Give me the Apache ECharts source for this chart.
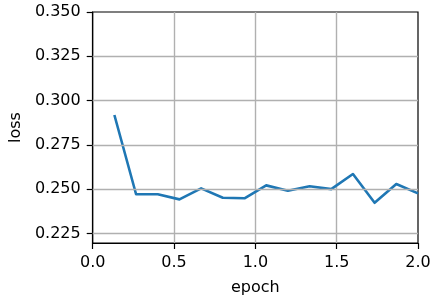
<!DOCTYPE html>
<html>
<head>
<meta charset="utf-8">
<script src="https://cdn.jsdelivr.net/npm/echarts@6/dist/echarts.min.js"></script>
<style>html,body{margin:0;padding:0;background:#fff;}#c{width:438px;height:302px;}</style>
</head>
<body>
<div id="c"></div>
<script>
const epochs = [0.1333, 0.2667, 0.4, 0.5333, 0.6667, 0.8, 0.9333, 1.0667, 1.2, 1.3333, 1.4667, 1.6, 1.7333, 1.8667, 2.0];
const loss = [0.2919, 0.2472, 0.2472, 0.2443, 0.2505, 0.2452, 0.2449, 0.2522, 0.2492, 0.2517, 0.2501, 0.2586, 0.2424, 0.2530, 0.2477];
const yTicks = [0.225, 0.25, 0.275, 0.3, 0.325, 0.35];
const xTicks = [0, 0.5, 1.0, 1.5, 2.0];
const yMin = 0.2197, yMax = 0.35;

const font = 'DejaVu Sans';
const chart = echarts.init(document.getElementById('c'), null, {renderer: 'canvas'});
chart.setOption({
  animation: false,
  grid: {left: 92, right: 20, top: 12, bottom: 59, show: true, borderColor: '#000', borderWidth: 1.2, backgroundColor: 'transparent'},
  xAxis: {
    type: 'value', min: xTicks[0], max: xTicks[xTicks.length - 1], interval: 0.5,
    name: 'epoch', nameLocation: 'middle', nameGap: 37,
    nameTextStyle: {fontFamily: font, fontSize: 16, color: '#000'},
    axisLine: {show: true, onZero: false, lineStyle: {color: '#000', width: 1.2}},
    axisTick: {show: true, length: 6, lineStyle: {color: '#000', width: 1.2}},
    axisLabel: {fontFamily: font, fontSize: 16, color: '#000', margin: 12, formatter: v => v.toFixed(1)},
    splitLine: {show: true, showMinLine: false, showMaxLine: false, lineStyle: {color: '#b0b0b0', width: 1.4}}
  },
  yAxis: {
    type: 'value', min: yMin, max: yMax,
    name: 'loss', nameLocation: 'middle', nameGap: 64, nameRotate: 90,
    nameTextStyle: {fontFamily: font, fontSize: 16, color: '#000'},
    axisLine: {show: true, onZero: false, lineStyle: {color: '#000', width: 1.2}},
    axisTick: {show: true, length: 6, customValues: yTicks, lineStyle: {color: '#000', width: 1.2}},
    axisLabel: {fontFamily: font, fontSize: 16, color: '#000', margin: 12, customValues: yTicks, formatter: v => v.toFixed(3)},
    splitLine: {show: false}
  },
  series: [
    {
      type: 'line', data: epochs.map((e, i) => [e, loss[i]]),
      showSymbol: false, symbol: 'none', silent: true,
      lineStyle: {color: '#1f77b4', width: 2.6, join: 'round', cap: 'butt'},
      z: 3
    },
    {
      type: 'line', data: [], silent: true, z: 1,
      markLine: {
        silent: true, symbol: 'none', animation: false, precision: 4,
        label: {show: false},
        lineStyle: {color: '#b0b0b0', width: 1.4, type: 'solid'},
        data: yTicks.filter(v => v > yMin && v < yMax).map(v => ({yAxis: v}))
      }
    }
  ]
});
</script>
</body>
</html>
